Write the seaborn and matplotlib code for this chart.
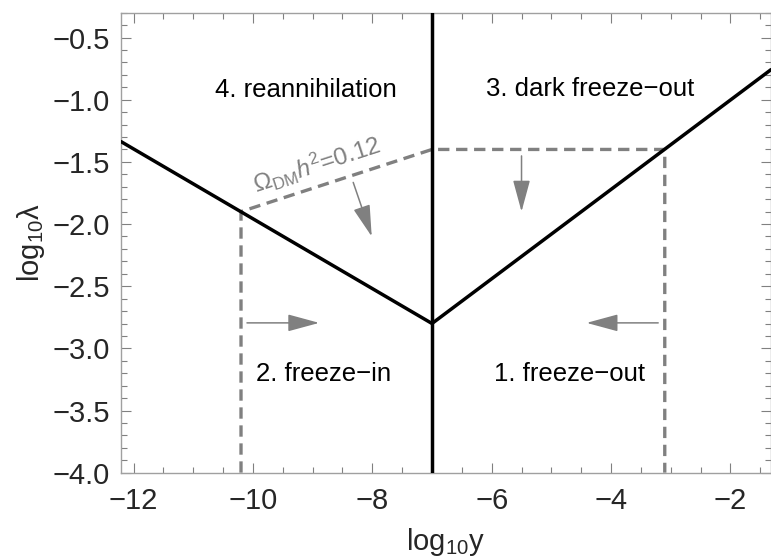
import numpy as np
import pandas as pd
import matplotlib
matplotlib.use("Agg")
import matplotlib.pyplot as plt
import seaborn as sns
from matplotlib.ticker import MultipleLocator

# ---- data ----
boundary_x = [-12.21, -7.0, -1.32]
boundary_y = [-1.337, -2.8, -0.758]
wall_x = [-7.0, -7.0]
wall_y = [-4.0, -0.3]
relic_x = [-10.2, -10.2, -7.0, -3.1, -3.1]
relic_y = [-4.0, -1.9, -1.4, -1.4, -4.0]

region_labels = ["4. reannihilation", "3. dark freeze\u2212out", "2. freeze\u2212in", "1. freeze\u2212out"]
region_x = [-9.11, -4.35, -8.81, -4.69]
region_y = [-0.92, -0.915, -3.21, -3.21]

arrow_start = [(-8.32, -1.665), (-5.5, -1.452), (-10.10, -2.795), (-3.21, -2.795)]
arrow_end = [(-8.01, -2.10), (-5.5, -1.90), (-8.89, -2.795), (-4.41, -2.795)]

sns.set_style("ticks")
plt.rcParams["font.family"] = ["Liberation Sans", "DejaVu Sans"]
plt.rcParams["mathtext.fontset"] = "custom"
plt.rcParams["mathtext.rm"] = "Liberation Sans"
plt.rcParams["mathtext.it"] = "Liberation Sans:italic"

fig = plt.figure(figsize=(7.71, 5.59), dpi=100)
ax = fig.add_axes([0.157, 0.1544, 0.843, 0.8229])

gray = "#808080"
df_b = pd.DataFrame({"x": boundary_x, "y": boundary_y})
df_w = pd.DataFrame({"x": wall_x, "y": wall_y})
df_r = pd.DataFrame({"x": relic_x, "y": relic_y})

sns.lineplot(data=df_r, x="x", y="y", sort=False, estimator=None, ax=ax, color=gray,
             lw=2.4, linestyle=(0, (3.4, 2.0)), zorder=2)
sns.lineplot(data=df_b, x="x", y="y", sort=False, estimator=None, ax=ax, color="black",
             lw=2.5, zorder=3)
sns.lineplot(data=df_w, x="x", y="y", sort=False, estimator=None, ax=ax, color="black",
             lw=2.5, zorder=3)

for s, e in zip(arrow_start, arrow_end):
    ax.annotate("", xy=e, xytext=s,
                arrowprops=dict(arrowstyle="-|>,head_length=1.4,head_width=0.38",
                                mutation_scale=14, color=gray, lw=1.1,
                                shrinkA=0, shrinkB=0))

for t, x, y in zip(region_labels, region_x, region_y):
    ax.text(x, y, t, ha="center", va="center", fontsize=18.5, color="black")

ax.text(-8.93, -1.525, r"$\Omega_{\rm DM}h^2$=0.12", ha="center", va="center",
        fontsize=17.5, color=gray, rotation=18, rotation_mode="anchor")

ax.set_xlim(-12.21, -1.32)
ax.set_ylim(-4.0, -0.3)
ax.xaxis.set_major_locator(MultipleLocator(2))
ax.xaxis.set_minor_locator(MultipleLocator(0.5))
ax.yaxis.set_major_locator(MultipleLocator(0.5))
ax.yaxis.set_minor_locator(MultipleLocator(0.1))
ax.tick_params(which="both", direction="in", top=True, right=True, color=gray,
               labelsize=21, width=0.8)
ax.tick_params(which="major", length=7)
ax.tick_params(which="minor", length=4)
ax.tick_params(axis="x", pad=10)
ax.tick_params(axis="y", pad=8)
for sp in ax.spines.values():
    sp.set_color("#a0a0a0")
    sp.set_linewidth(1.0)

ax.set_xlabel("log$_{10}$y", fontsize=21, labelpad=8)
ax.set_ylabel("log$_{10}$λ", fontsize=21, labelpad=4)

fig.savefig("out.png", dpi=100)
